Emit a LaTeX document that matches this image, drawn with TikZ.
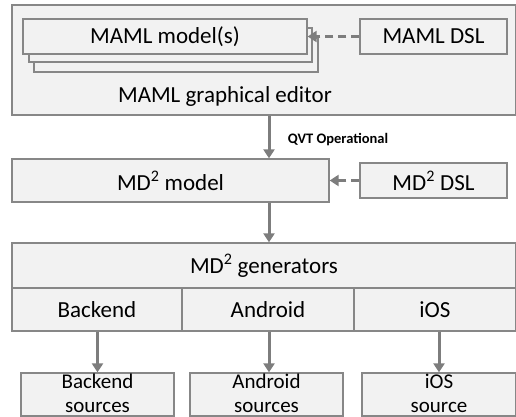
\documentclass[tikz,border=0pt]{standalone}
\usepackage{fontspec}
\setmainfont{Carlito}
\usetikzlibrary{positioning, arrows.meta}
\definecolor{boxfill}{RGB}{242,242,242}
\definecolor{boxline}{RGB}{135,135,135}
\definecolor{arrowcol}{RGB}{125,125,125}

\begin{document}
\begin{tikzpicture}[x=1pt, y=-1pt,
    box/.style={rectangle,fill=boxfill,draw=boxline,line width=1.3pt,inner sep=0pt,font=\fontsize{23}{27}\selectfont},
    srcbox/.style={box,font=\fontsize{21}{24}\selectfont,align=center},
    srctext/.style={font=\fontsize{21}{24}\selectfont,align=center,inner sep=0pt},
    flow/.style={arrowcol,line width=3pt,-{Triangle[width=11pt,length=9pt]}},
    dsl/.style={flow,dash pattern=on 8pt off 5pt}]
  \useasboundingbox (0,0) rectangle (516,417);
  % editor with stacked models
  \node[box, minimum width=504, minimum height=110] (editor) at (264,60) {};
  \node[box, minimum width=284, minimum height=34] (model3) at (176,55) {};
  \node[box, minimum width=283, minimum height=34] (model2) at (170.5,45) {};
  \node[box, minimum width=284, minimum height=35] (model1) at (165,36.5) {MAML model(s)};
  \node[box, minimum width=147, minimum height=35] (mamldsl) at (433.5,36.5) {MAML DSL};
  \node[font=\fontsize{23}{27}\selectfont] (edlabel) at (225,96) {MAML graphical editor};
  % MD2 layer
  \node[box, minimum width=317, minimum height=43] (md2model) at (170.5,180.5) {MD\textsuperscript{2} model};
  \node[box, minimum width=147, minimum height=35] (md2dsl) at (433.5,180.5) {MD\textsuperscript{2} DSL};
  % generators
  \node[box, minimum width=504, minimum height=45] (gen) at (264,265.5) {MD\textsuperscript{2} generators};
  \node[box, minimum width=170, minimum height=43] (backend) at (97,309.5) {Backend};
  \node[box, minimum width=172, minimum height=43] (android) at (268,309.5) {Android};
  \node[box, minimum width=162, minimum height=43] (ios) at (435,309.5) {iOS};
  % sources
  \node[srcbox, minimum width=153, minimum height=43] (bsrc) at (97.5,394.5) {};
  \node[srcbox, minimum width=153, minimum height=43] (asrc) at (266.5,394.5) {};
  \node[srcbox, minimum width=154, minimum height=43] (isrc) at (439,394.5) {};
  \node[srctext] at (97.5,393.5) {Backend\\sources};
  \node[srctext] at (266.5,393.5) {Android\\sources};
  \node[srctext] at (439,393.5) {iOS\\source};
  \coordinate (axis) at (269,0);
  \draw[dsl] (mamldsl.west) -- (model1.east);
  \draw[dsl] (md2dsl.west) -- (md2model.east);
  \draw[flow] (editor.south -| axis) -- (md2model.north -| axis)
    node[pos=0.57, anchor=west, xshift=14pt, text=black, font=\fontsize{14.5}{17}\selectfont\bfseries] {QVT Operational};
  \draw[flow] (md2model.south -| axis) -- (gen.north -| axis);
  \draw[flow] (backend.south -| bsrc) -- (bsrc.north);
  \draw[flow] (android.south -| axis) -- (asrc.north -| axis);
  \draw[flow] (ios.south -| isrc) -- (isrc.north);
\end{tikzpicture}
\end{document}
